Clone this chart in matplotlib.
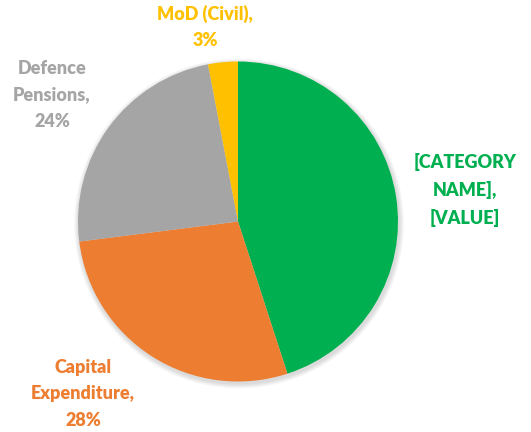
import matplotlib
matplotlib.use("Agg")
import matplotlib.pyplot as plt
from matplotlib.patches import Circle

categories = ["[CATEGORY NAME]", "Capital Expenditure", "Defence Pensions", "MoD (Civil)"]
values = [45, 28, 24, 3]
colors = ["#00B050", "#ED7D31", "#A5A5A5", "#FFC000"]
label_texts = ["[CATEGORY\nNAME],\n[VALUE]", "Capital\nExpenditure,\n28%", "Defence\nPensions,\n24%", "MoD (Civil),\n3%"]
label_pos = [(465, 432 - 190), (83, 432 - 394), (52, 432 - 95), (205, 432 - 27)]

W, H = 531, 432
fig = plt.figure(figsize=(W / 100, H / 100), dpi=100)
ax = fig.add_axes([0, 0, 1, 1])

cx, cy, r = 238, 432 - 221.5, 160

# soft shadow
for i in range(6):
    ax.add_patch(Circle((cx + 1, cy - 2), r + 1 + i * 0.8, color="black", alpha=0.025, lw=0, zorder=0))

ax.pie(values, colors=colors, startangle=90, counterclock=False, center=(cx, cy), radius=r,
       wedgeprops=dict(linewidth=0), frame=True)
ax.set_xlim(0, W)
ax.set_ylim(0, H)
ax.set_aspect("equal")
ax.axis("off")

for txt, (x, y), c in zip(label_texts, label_pos, colors):
    ax.text(x, y, txt, color=c, ha="center", va="center", fontsize=13, fontweight="heavy",
            family="Lato", linespacing=1.65)

fig.savefig("out.png", dpi=100)
